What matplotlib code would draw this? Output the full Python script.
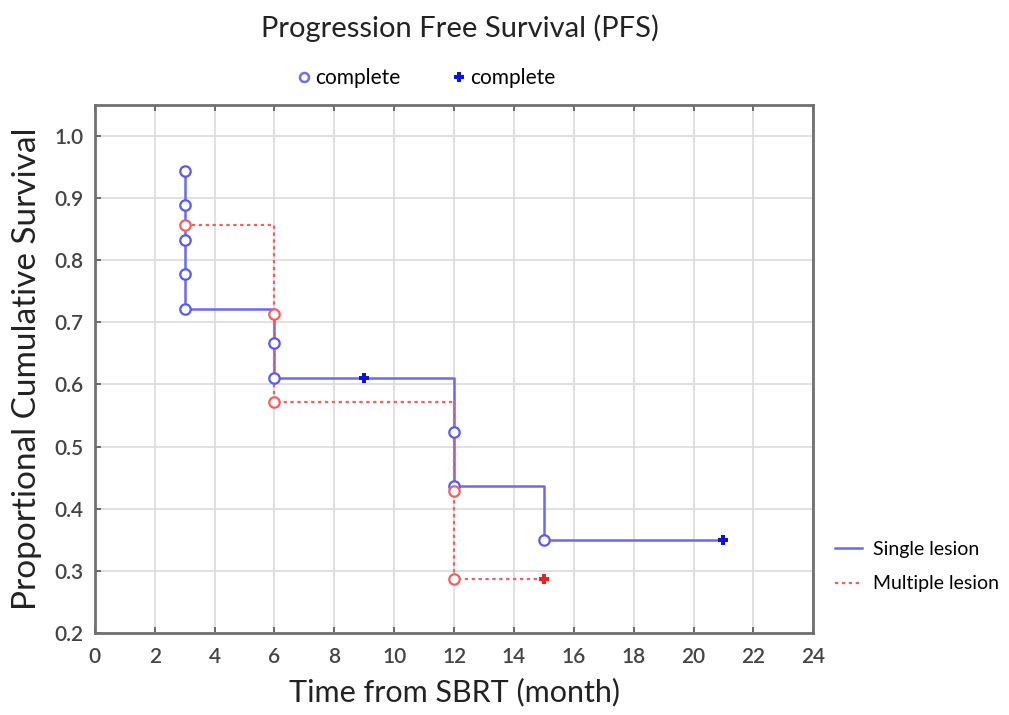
import matplotlib
matplotlib.use("Agg")
import matplotlib.pyplot as plt
from matplotlib.lines import Line2D

# ---- data ----
single_times = [3, 3, 3, 3, 3, 6, 6, 12, 12, 15]
single_surv = [0.944, 0.889, 0.833, 0.778, 0.722, 0.667, 0.611, 0.524, 0.437, 0.350]
single_cens_t = [9, 21]
single_cens_s = [0.611, 0.350]

multi_times = [3, 6, 6, 12, 12]
multi_surv = [0.857, 0.714, 0.571, 0.429, 0.286]
multi_cens_t = [15]
multi_cens_s = [0.286]

x_ticks = list(range(0, 25, 2))
y_ticks = [0.2, 0.3, 0.4, 0.5, 0.6, 0.7, 0.8, 0.9, 1.0]

FONT = ["Lato", "DejaVu Sans"]
plt.rcParams['font.family'] = FONT

blue_line = "#6a6af0"
blue_mark = "#5a5af0"
blue_cens = "#1010e0"
red_line = "#f06060"
red_mark = "#f06060"
red_cens = "#ee2020"

fig = plt.figure(figsize=(10.09, 7.15), dpi=100)
ax = fig.add_axes([0.094, 0.115, 0.712, 0.738])

# single lesion
sx = single_times + [single_cens_t[-1]]
sy = single_surv + [single_surv[-1]]
ax.step(sx, sy, where='post', color=blue_line, lw=1.8, zorder=3)
ax.plot(single_times, single_surv, 'o', ms=7.5, mfc='white', mec=blue_mark, mew=1.6, zorder=4)
ax.plot(single_cens_t, single_cens_s, 'P', ms=7, color=blue_cens, mew=0, zorder=5)

# multiple lesion
mx = multi_times + [multi_cens_t[-1]]
my = multi_surv + [multi_surv[-1]]
ax.step(mx, my, where='post', color=red_line, lw=1.6, ls=(0, (1.5, 1.6)), zorder=3)
ax.plot(multi_times, multi_surv, 'o', ms=7.5, mfc='white', mec=red_mark, mew=1.6, zorder=4)
ax.plot(multi_cens_t, multi_cens_s, 'P', ms=7, color=red_cens, mew=0, zorder=5)

ax.set_xlim(0, 24)
ax.set_ylim(0.2, 1.05)
ax.set_xticks(x_ticks)
ax.set_yticks(y_ticks)
ax.set_yticklabels([f"{v:.1f}" for v in y_ticks])
ax.grid(True, color="#dcdcdc", lw=1.2)
ax.set_axisbelow(True)
ax.tick_params(direction='in', length=4, width=1.2, color="#555555",
               labelsize=15, labelcolor="#444444", top=True, right=False)
ax.tick_params(axis='x', pad=10)
ax.tick_params(axis='y', pad=8)
for t in ax.get_xticklabels() + ax.get_yticklabels():
    t.set_fontweight('semibold')
for sp in ax.spines.values():
    sp.set_color("#707070")
    sp.set_linewidth(2)

ax.set_xlabel("Time from SBRT (month)", fontsize=22, color="#222222", labelpad=8)
ax.set_ylabel("Proportional Cumulative Survival", fontsize=24, color="#222222", labelpad=9)
fig.text(0.456, 0.96, "Progression Free Survival (PFS)", fontsize=21, color="#222222",
         ha='center', va='center')

# top legend
h1 = Line2D([], [], ls='none', marker='o', ms=6.5, mfc='white', mec="#7070e8", mew=1.8)
h2 = Line2D([], [], ls='none', marker='P', ms=7.5, color=blue_cens, mew=0)
fig.legend([h1, h2], ["complete", "complete"], loc='center', ncol=2,
           bbox_to_anchor=(0.421, 0.891), frameon=False, fontsize=15,
           handletextpad=0.05, columnspacing=2.3, handlelength=1.0)

# right legend
h3 = Line2D([], [], color=blue_line, lw=1.8)
h4 = Line2D([], [], color=red_line, lw=1.6, ls=(0, (1.5, 1.6)))
fig.legend([h3, h4], ["Single lesion", "Multiple lesion"], loc='upper left',
           bbox_to_anchor=(0.810, 0.268), frameon=False, fontsize=14,
           handlelength=1.4, handletextpad=0.55, labelspacing=0.9)

fig.savefig("out.png", dpi=100)
